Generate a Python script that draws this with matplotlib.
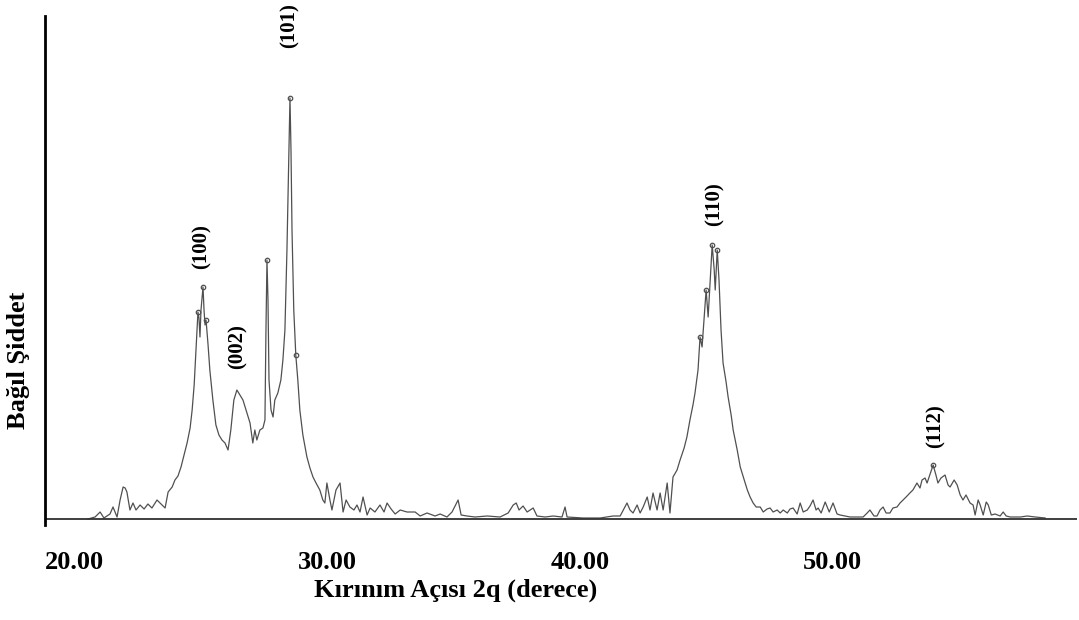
import numpy as np
import matplotlib
matplotlib.use("Agg")
import matplotlib.pyplot as plt

# 2-theta (degrees) and relative intensity (a.u.)
two_theta = [
    20.54, 20.82, 21.02, 21.17, 21.41, 21.53, 21.69, 21.81, 21.93, 22.01,
    22.08, 22.20, 22.32, 22.44, 22.60, 22.76, 22.91, 23.07, 23.27, 23.43,
    23.59, 23.71, 23.87, 23.98, 24.10, 24.22, 24.34, 24.46, 24.58, 24.66,
    24.74, 24.81, 24.85, 24.89, 24.93, 24.97, 25.01, 25.09, 25.13, 25.17,
    25.21, 25.29, 25.36, 25.48, 25.60, 25.72, 25.84, 25.96, 26.08, 26.19,
    26.31, 26.43, 26.55, 26.67, 26.79, 26.95, 27.06, 27.14, 27.22, 27.34,
    27.46, 27.54, 27.58, 27.62, 27.66, 27.70, 27.78, 27.86, 27.93, 28.05,
    28.17, 28.25, 28.33, 28.41, 28.49, 28.53, 28.57, 28.61, 28.68, 28.76,
    28.84, 28.92, 29.04, 29.20, 29.32, 29.44, 29.56, 29.71, 29.83, 29.91,
    29.99, 30.11, 30.19, 30.35, 30.51, 30.63, 30.75, 30.90, 31.06, 31.18,
    31.30, 31.42, 31.58, 31.70, 31.89, 32.09, 32.25, 32.37, 32.53, 32.69,
    32.89, 33.16, 33.48, 33.68, 33.95, 34.27, 34.47, 34.74, 34.94, 35.18,
    35.30, 35.53, 35.85, 36.33, 36.84, 37.16, 37.36, 37.48, 37.59, 37.75,
    37.91, 38.15, 38.30, 38.62, 38.94, 39.29, 39.41, 39.49, 40.12, 40.80,
    41.31, 41.59, 41.86, 41.98, 42.10, 42.26, 42.38, 42.50, 42.66, 42.77,
    42.89, 43.05, 43.17, 43.29, 43.45, 43.56, 43.68, 43.84, 43.96, 44.12,
    44.23, 44.35, 44.47, 44.55, 44.67, 44.75, 44.83, 44.91, 44.99, 45.07,
    45.15, 45.23, 45.31, 45.35, 45.43, 45.50, 45.58, 45.66, 45.78, 45.86,
    45.98, 46.06, 46.22, 46.34, 46.50, 46.62, 46.73, 46.85, 46.97, 47.13,
    47.25, 47.40, 47.52, 47.64, 47.80, 47.92, 48.04, 48.20, 48.31, 48.43,
    48.59, 48.71, 48.83, 48.99, 49.10, 49.22, 49.34, 49.42, 49.54, 49.70,
    49.86, 50.01, 50.17, 50.29, 50.68, 51.20, 51.36, 51.47, 51.63, 51.75,
    51.87, 51.99, 52.11, 52.26, 52.38, 52.54, 52.66, 52.78, 52.90, 53.05,
    53.17, 53.33, 53.45, 53.53, 53.65, 53.73, 53.85, 53.97, 54.08, 54.16,
    54.28, 54.44, 54.56, 54.64, 54.80, 54.92, 55.04, 55.15, 55.27, 55.43,
    55.55, 55.63, 55.75, 55.83, 55.95, 56.07, 56.15, 56.27, 56.42, 56.62,
    56.74, 56.86, 57.02, 57.42, 57.69, 58.01, 58.40,
]
intensity = [
    0, 2, 7, 1, 5, 12, 2, 19, 32, 31,
    27, 9, 16, 9, 14, 10, 15, 11, 19, 15,
    11, 27, 32, 39, 43, 52, 64, 76, 91, 109,
    134, 169, 189, 207, 201, 182, 209, 232, 209, 194,
    199, 174, 149, 119, 94, 84, 79, 76, 69, 89,
    119, 129, 124, 119, 109, 96, 76, 89, 79, 89,
    91, 99, 189, 259, 219, 139, 109, 102, 119, 126,
    139, 159, 189, 269, 369, 421, 369, 289, 209, 164,
    139, 109, 84, 62, 51, 42, 36, 29, 19, 16,
    36, 19, 9, 29, 36, 7, 19, 12, 9, 14,
    7, 22, 4, 11, 7, 14, 7, 16, 10, 5,
    9, 7, 7, 3, 6, 3, 5, 2, 7, 19,
    4, 3, 2, 3, 2, 6, 14, 16, 9, 13,
    7, 11, 3, 2, 3, 2, 12, 2, 1, 1,
    3, 3, 16, 9, 6, 14, 6, 12, 22, 9,
    26, 9, 26, 9, 36, 6, 42, 49, 59, 71,
    82, 99, 114, 126, 149, 182, 172, 201, 229, 202,
    239, 274, 249, 229, 269, 239, 189, 156, 137, 122,
    104, 89, 69, 52, 39, 29, 22, 16, 12, 12,
    7, 10, 11, 7, 9, 6, 9, 6, 10, 11,
    5, 16, 7, 9, 13, 19, 9, 11, 6, 17,
    7, 16, 5, 4, 2, 2, 6, 9, 3, 3,
    9, 12, 6, 6, 11, 12, 16, 19, 22, 26,
    29, 36, 31, 39, 41, 36, 45, 54, 44, 36,
    41, 44, 34, 32, 39, 34, 24, 19, 24, 16,
    14, 4, 19, 14, 4, 17, 14, 4, 5, 3,
    7, 3, 2, 2, 3, 2, 1,
]

# small circle markers at recorded peak points
marker_theta = [24.89, 25.09, 25.21, 27.62, 28.53, 28.76, 44.75, 44.99, 45.23, 45.43, 53.97]

# Miller-index labels: (label, 2-theta, height)
peak_labels = ["(101)", "(100)", "(002)", "(110)", "(112)"]
peak_label_theta = [28.53, 25.05, 26.47, 45.34, 54.05]
peak_label_height = [493, 272, 172, 315, 93]

tick_values = [20, 30, 40, 50]
tick_labels = ["20.00", "30.00", "40.00", "50.00"]

xlabel = "Kırınım Açısı 2q (derece)"
ylabel = "Bağıl Şiddet"

plt.rcParams['font.family'] = ['Liberation Serif', 'DejaVu Serif']

fig = plt.figure(figsize=(10.79, 6.20), dpi=100)
ax = fig.add_axes([45 / 1079, 1 - 525 / 620, (1077 - 45) / 1079, (525 - 16) / 620])

ax.plot(two_theta, intensity, color="#505050", lw=0.9)
my = np.interp(marker_theta, two_theta, intensity)
ax.plot(marker_theta, my, linestyle="none", marker="o", ms=3.2,
        mfc="none", mec="#505050", mew=0.9)
ax.axhline(0, color="#303030", lw=1.3)

for lab, xt, yt in zip(peak_labels, peak_label_theta, peak_label_height):
    ax.text(xt, yt, lab, rotation=90, ha="center", va="center",
            fontsize=15, fontweight="bold", clip_on=False)

ax.set_xlim(18.84, 59.66)
ax.set_ylim(-6, 503)

for s in ["top", "right", "bottom"]:
    ax.spines[s].set_visible(False)
ax.spines["left"].set_linewidth(2.0)
ax.spines["left"].set_color("black")

ax.set_xticks(tick_values)
ax.set_xticklabels(tick_labels, fontsize=19, fontweight="bold")
ax.tick_params(axis="x", length=0, pad=19)
ax.set_yticks([])

fig.text(456 / 1079, 1 - 590 / 620, xlabel, ha="center", va="center",
         fontsize=19, fontweight="bold")
fig.text(19 / 1079, 1 - 360 / 620, ylabel, ha="center", va="center",
         rotation=90, fontsize=19, fontweight="bold")

fig.savefig("out.png", dpi=100)
